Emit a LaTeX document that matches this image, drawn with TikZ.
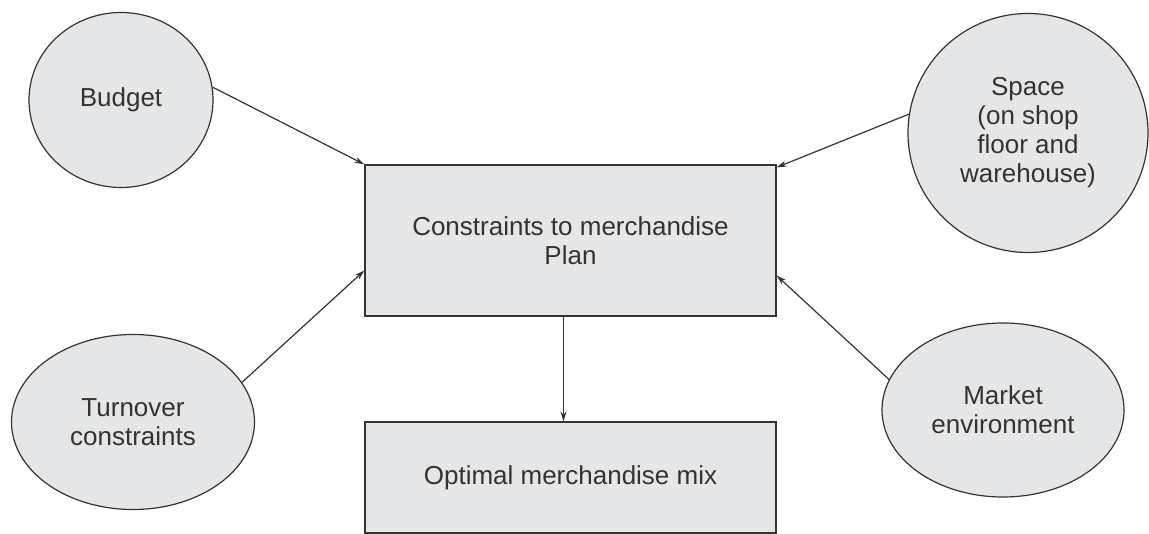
\documentclass[tikz,border=0pt]{standalone}
\usepackage{fontspec}
\setmainfont{Liberation Sans}
\usetikzlibrary{shapes.geometric,arrows.meta}
\definecolor{boxgrey}{HTML}{E5E6E8}
\definecolor{inkgrey}{HTML}{333333}

\begin{document}
\begin{tikzpicture}[x=1pt,y=-1pt,
  every node/.style={font=\fontsize{26}{29}\selectfont, text=inkgrey, align=center},
  blob/.style={ellipse, draw=inkgrey, fill=boxgrey, line width=1.2pt, inner sep=0pt},
  planbox/.style={rectangle, draw=inkgrey, fill=boxgrey, line width=1.2pt, minimum width=411pt},
  feed/.style={-{Stealth[length=10pt,width=6pt]}, draw=inkgrey, line width=1.2pt}]
  \useasboundingbox (0,0) rectangle (1149,534);
  % the plan and its outcome
  \node[planbox, minimum height=151pt] (plan) at (570.5,240.5) {Constraints to merchandise\\Plan};
  \node[planbox, minimum height=111pt] (mix) at (570.5,477.5) {Optimal merchandise mix};
  % the four constraints
  \node[blob, minimum width=184pt, minimum height=175pt] (budget) at (121,100) {Budget};
  \node[blob, minimum width=240pt, minimum height=239pt] (space) at (1028,133) {Space\\(on shop\\floor and\\warehouse)};
  \node[blob, minimum width=243pt, minimum height=175pt] (turnover) at (133,422) {Turnover\\constraints};
  \node[blob, minimum width=242pt, minimum height=174pt] (market) at (1003,410) {Market\\environment};
  % arrows into the plan
  \draw[feed] (budget.8) -- (plan.north west);
  \draw[feed] (space.171) -- ([yshift=-3pt]plan.north east);
  \draw[feed] (turnover.20) -- ([yshift=-30pt]plan.west);
  \draw[feed] (market.165) -- ([yshift=-35pt]plan.east);
  \draw[feed] ([xshift=-7pt]plan.south) -- ([xshift=-7pt]mix.north);
\end{tikzpicture}
\end{document}
